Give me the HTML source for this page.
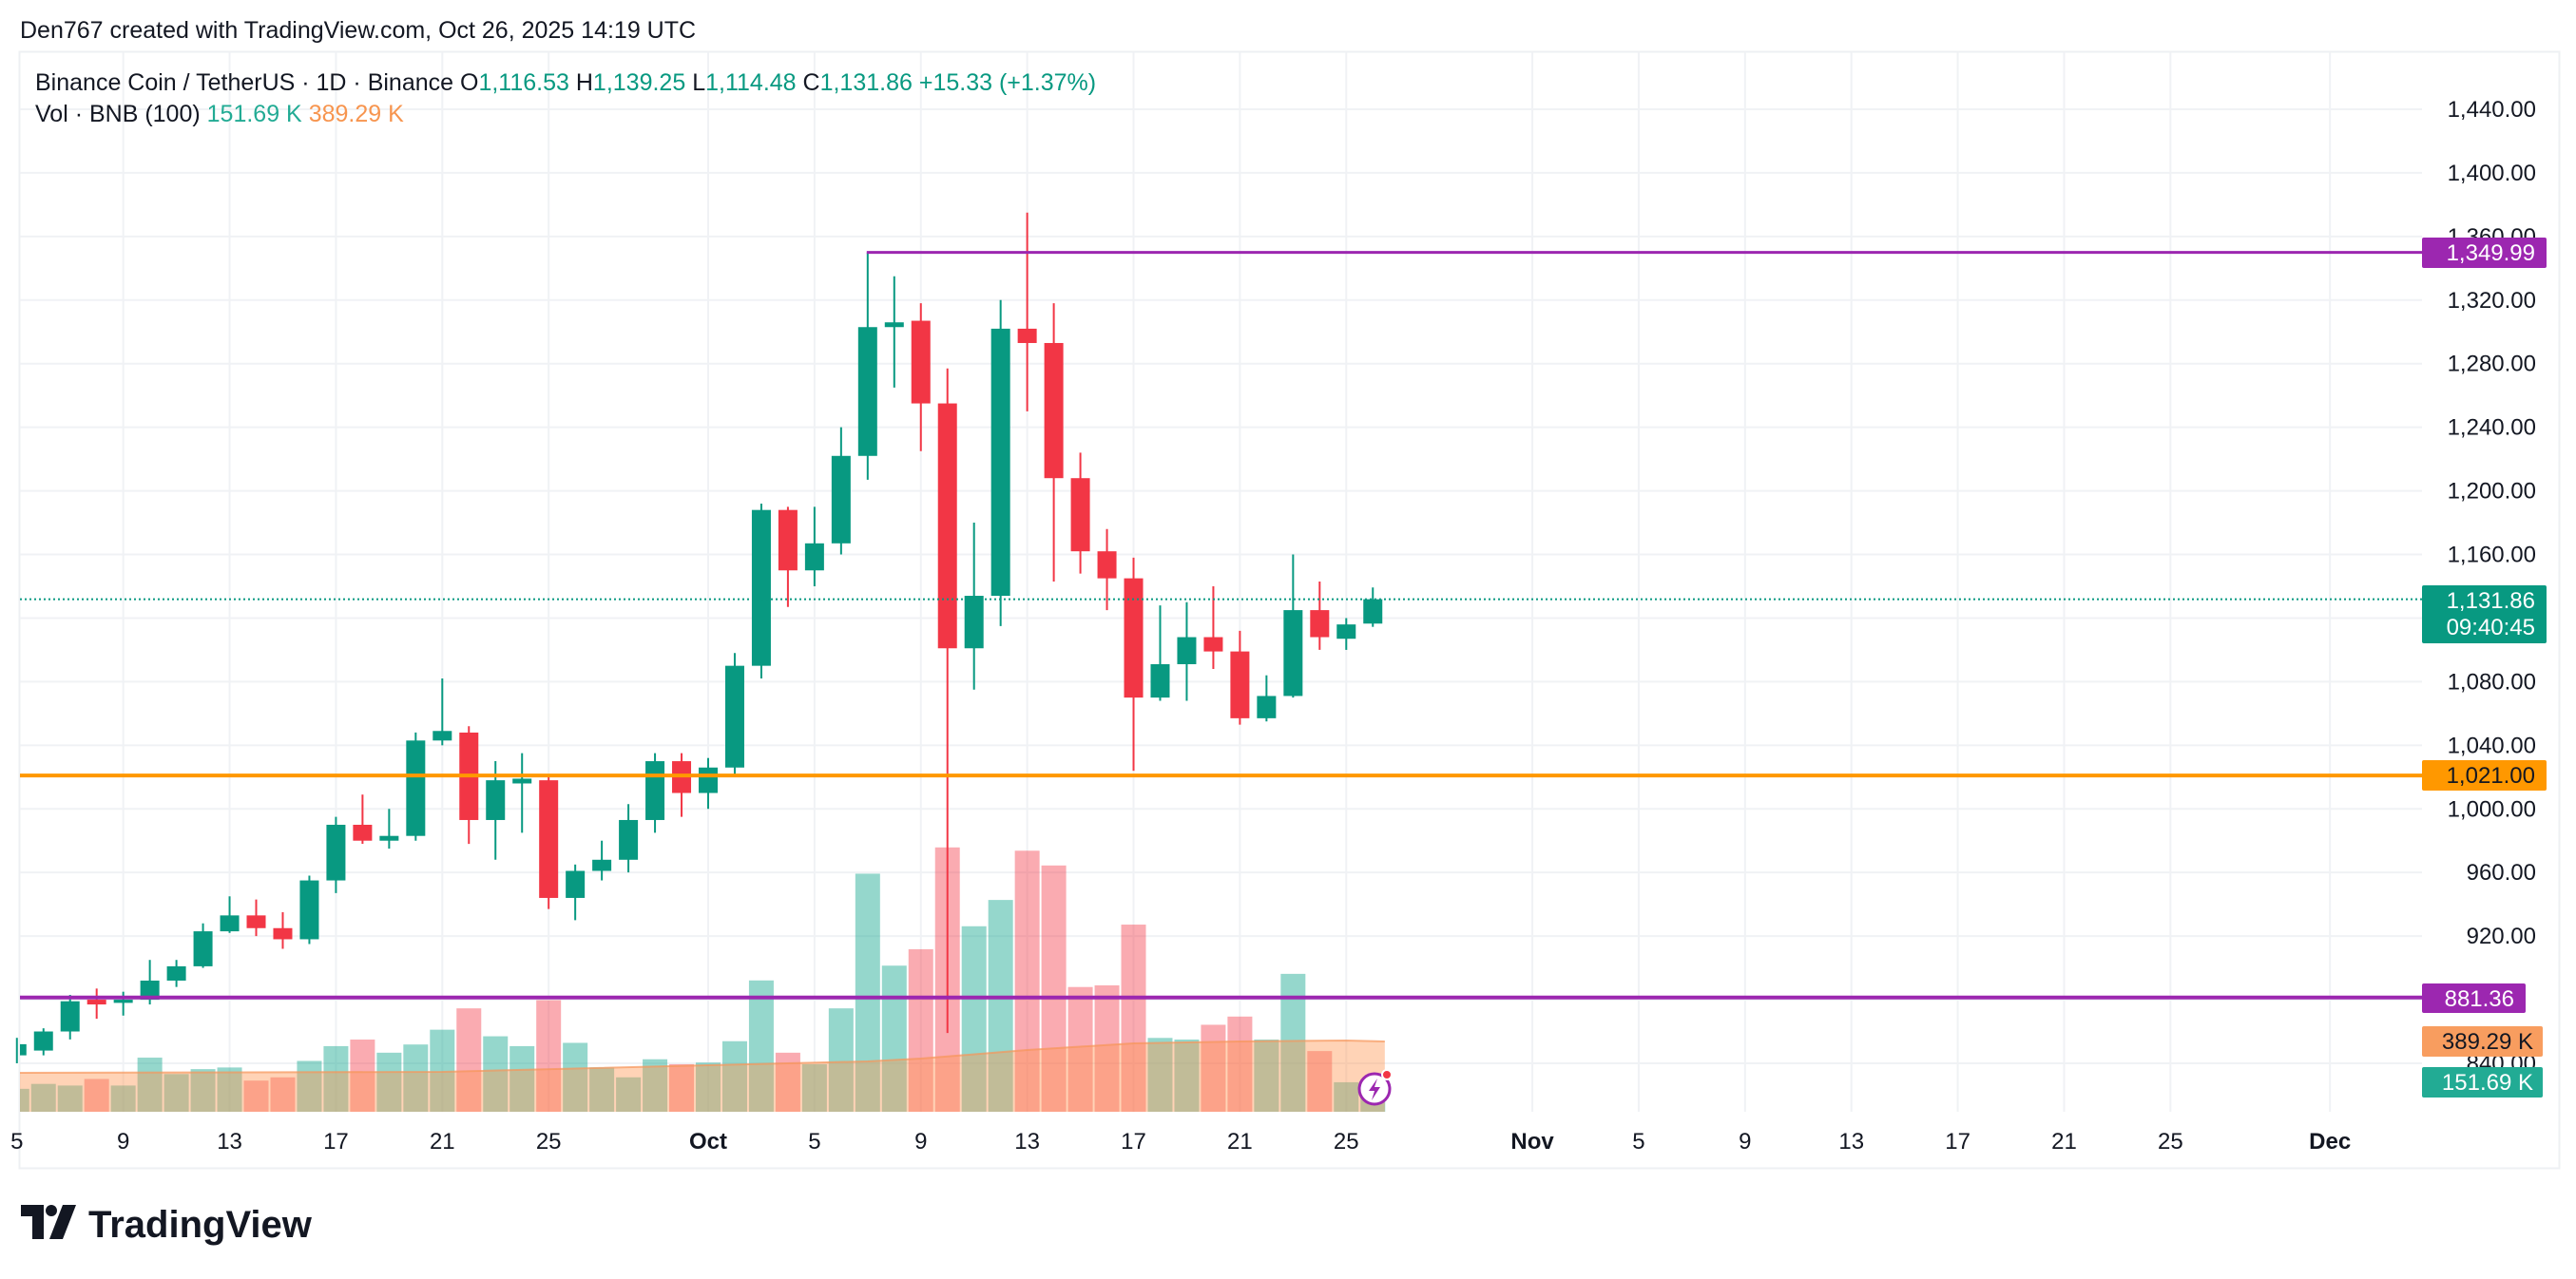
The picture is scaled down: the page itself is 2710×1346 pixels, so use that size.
<!DOCTYPE html>
<html><head><meta charset="utf-8"><style>
html,body{margin:0;padding:0;background:#fff;width:2710px;height:1346px;overflow:hidden}
svg{display:block}
text{font-family:"Liberation Sans",sans-serif}
</style></head><body>
<svg id="s" width="2710" height="1346" viewBox="0 0 2710 1346" xmlns="http://www.w3.org/2000/svg">
<rect x="0" y="0" width="2710" height="1346" fill="#fff"/>
<text x="21" y="40" font-size="25" fill="#131722">Den767 created with TradingView.com, Oct 26, 2025 14:19 UTC</text>
<rect x="20.5" y="54.5" width="2672" height="1175" fill="none" stroke="#eef0f3" stroke-width="2"/>
<g id="grid"></g>
<g id="vol"></g>
<g id="ma"></g>
<g id="cand"></g>
<g font-size="24" fill="#131722" text-anchor="end" id="pax"></g>
<g id="lines"></g>
<!-- legend -->
<text x="37" y="95" font-size="25" fill="#131722">Binance Coin / TetherUS · 1D · Binance  <tspan>O</tspan><tspan fill="#089981">1,116.53</tspan>  H<tspan fill="#089981">1,139.25</tspan>  L<tspan fill="#089981">1,114.48</tspan>  C<tspan fill="#089981">1,131.86</tspan>  <tspan fill="#089981">+15.33 (+1.37%)</tspan></text>
<text x="37" y="128" font-size="25" fill="#131722">Vol · BNB (100)  <tspan fill="#22ab94">151.69 K</tspan>  <tspan fill="#f7954f">389.29 K</tspan></text>
<!-- price boxes -->
<rect x="2548" y="250" width="131" height="32" rx="2" fill="#9c27b0"/>
<text x="2667" y="274" font-size="24" fill="#fff" text-anchor="end">1,349.99</text>
<rect x="2548" y="616" width="131" height="61" rx="2" fill="#089981"/>
<text x="2667" y="640" font-size="24" fill="#fff" text-anchor="end">1,131.86</text>
<text x="2667" y="668" font-size="24" fill="#fff" text-anchor="end">09:40:45</text>
<rect x="2548" y="800" width="131" height="32" rx="2" fill="#ff9800"/>
<text x="2667" y="824" font-size="24" fill="#131722" text-anchor="end">1,021.00</text>
<rect x="2548" y="1035" width="109" height="31" rx="2" fill="#9c27b0"/>
<text x="2645" y="1059" font-size="24" fill="#fff" text-anchor="end">881.36</text>
<rect x="2548" y="1080" width="127" height="32" rx="2" fill="#f89d5f"/>
<text x="2665" y="1104" font-size="24" fill="#131722" text-anchor="end">389.29 K</text>
<rect x="2548" y="1123" width="127" height="32" rx="2" fill="#22ab94"/>
<text x="2665" y="1147" font-size="24" fill="#fff" text-anchor="end">151.69 K</text>
<!-- time axis -->
<g font-size="24" fill="#131722" text-anchor="middle" id="tax"></g>
<!-- icon -->
<circle cx="1446" cy="1146" r="16" fill="#fff" stroke="#9c27b0" stroke-width="3"/>
<path d="M1449 1135 L1440 1148 L1446 1148 L1443 1158 L1452 1144 L1446 1144 Z" fill="#9c27b0"/>
<circle cx="1459" cy="1131" r="5" fill="#f23645" stroke="#fff" stroke-width="2"/>
<!-- logo -->
<g transform="translate(22,1268)">
<path d="M0 0 H24 V36 H12 V12 H0 Z" fill="#131722"/>
<circle cx="32" cy="6" r="6" fill="#131722"/>
<path d="M44 0 H58 L44 36 H30 Z" fill="#131722"/>
</g>
<text x="93" y="1302" font-size="40" font-weight="bold" fill="#131722">TradingView</text>
</svg>
<script>
const NS="http://www.w3.org/2000/svg";
function el(p,t,a,txt){const e=document.createElementNS(NS,t);for(const k in a)e.setAttribute(k,a[k]);if(txt!==undefined)e.textContent=txt;document.getElementById(p).appendChild(e);return e;}
const X=d=>745+d*27.97, Y=p=>115+(1440-p)*1.6733;
for(let p=840;p<=1440;p+=40){el('grid','line',{x1:21,x2:2548,y1:Y(p),y2:Y(p),stroke:'#f0f2f5','stroke-width':2});}
const ticks=[[-26,'5'],[-22,'9'],[-18,'13'],[-14,'17'],[-10,'21'],[-6,'25'],[0,'Oct',1],[4,'5'],[8,'9'],[12,'13'],[16,'17'],[20,'21'],[24,'25'],[31,'Nov',1],[35,'5'],[39,'9'],[43,'13'],[47,'17'],[51,'21'],[55,'25'],[61,'Dec',1]];
ticks.forEach(t=>{const x=X(t[0]);if(x>21)el('grid','line',{x1:x,x2:x,y1:55,y2:1170,stroke:'#f0f2f5','stroke-width':2});
 const e=el('tax','text',{x:x,y:1209},t[1]);if(t[2])e.setAttribute('font-weight','bold');});
for(let p=840;p<=1440;p+=40){if(p===1120||p===880)continue;const s=p>=1000?(p/1000|0)+','+String(p%1000).padStart(3,'0')+'.00':p+'.00';el('pax','text',{x:2668,y:Y(p)+8},s);}
const D=[[845,856,840,852],[848,862,845,860],[860,883,855,879],[880,887,868,877],[878,885,870,880],[880,905,877,892],[892,905,888,901],[901,928,900,923],[923,945,922,933],[933,943,920,925],[925,935,912,918],[918,958,915,955],[955,995,947,990],[990,1009,978,980],[980,1000,975,983],[983,1048,980,1043],[1043,1082,1040,1049],[1048,1052,978,993],[993,1030,968,1018],[1016,1035,985,1019],[1018,1020,937,944],[944,965,930,961],[961,980,955,968],[968,1003,960,993],[993,1035,985,1030],[1030,1035,995,1010],[1010,1032,1000,1026],[1026,1098,1022,1090],[1090,1192,1082,1188],[1188,1190,1127,1150],[1150,1190,1140,1167],[1167,1240,1160,1222],[1222,1350,1207,1303],[1303,1335,1265,1306],[1307,1318,1225,1255],[1255,1277,859,1101],[1101,1180,1075,1134],[1134,1320,1115,1302],[1302,1375,1250,1293],[1293,1318,1143,1208],[1208,1224,1148,1162],[1162,1176,1125,1145],[1145,1158,1024,1070],[1070,1128,1068,1091],[1091,1130,1068,1108],[1108,1140,1088,1099],[1099,1112,1053,1057],[1057,1084,1055,1071],[1071,1160,1070,1125],[1125,1143,1100,1108],[1107,1120,1100,1116],[1116.53,1139.25,1114.48,1131.86]];
const V=[663,660,661,657,661,644,654,651,650,658,656,646,637,633,641,636,627,614,631,637,609,635,650,656,645,648,647,634,597,641,648,614,532,588,578,516,564,548,518,527,601,600,563,632,633,624,619,633,593,640,659,660];
D.forEach((c,i)=>{const d=i-26,x=X(d);const up=c[3]>=c[0];
 const top=V[i]*1.7283;const w=26;let x0=Math.max(21,x-w/2);
 el('vol','rect',{x:x0,y:top,width:x+w/2-x0,height:1170-top,fill:up?'rgba(34,171,148,0.48)':'rgba(242,54,69,0.42)'});
 const col=up?'#089981':'#f23645';
 el('cand','line',{x1:x,x2:x,y1:Y(c[1]),y2:Y(c[2]),stroke:col,'stroke-width':2});
 const yt=Y(Math.max(c[0],c[3])),yb=Y(Math.min(c[0],c[3]));let bx=Math.max(21,x-10);
 el('cand','rect',{x:bx,y:yt,width:x+10-bx,height:Math.max(2,yb-yt),fill:col});
});
const mp=[[-26,1129],[-10,1128],[0,1121],[6,1117],[8,1114],[12,1105],[16,1098],[20,1096],[24,1095],[25.45,1096]];
let d='M21 1170 L21 1129 ';mp.forEach(p=>{d+='L'+Math.max(21,X(p[0]))+' '+p[1]+' ';});d+='L'+X(25.45)+' 1170 Z';
el('ma','path',{d:d,fill:'rgba(255,150,80,0.42)'});
let l='M21 1129 ';mp.forEach(p=>{l+='L'+Math.max(21,X(p[0]))+' '+p[1]+' ';});
el('ma','path',{d:l,fill:'none',stroke:'rgba(247,150,90,0.7)','stroke-width':2});
el('lines','line',{x1:21,x2:2548,y1:Y(1131.86),y2:Y(1131.86),stroke:'#089981','stroke-width':2,'stroke-dasharray':'2 3'});
el('lines','line',{x1:X(6)-1,x2:2548,y1:Y(1349.99),y2:Y(1349.99),stroke:'#9c27b0','stroke-width':3});
el('lines','line',{x1:21,x2:2548,y1:Y(1021),y2:Y(1021),stroke:'#ff9800','stroke-width':4});
el('lines','line',{x1:21,x2:2548,y1:Y(881.36),y2:Y(881.36),stroke:'#9c27b0','stroke-width':4});
</script>
</body></html>
